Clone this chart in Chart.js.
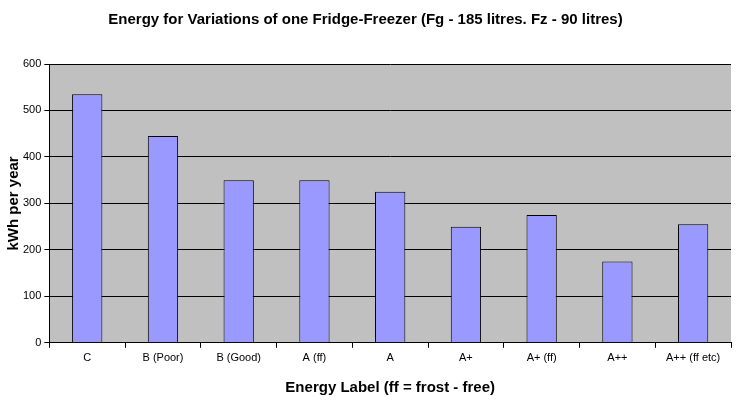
<!DOCTYPE html>
<html>
<head>
<meta charset="utf-8">
<script src="https://cdn.jsdelivr.net/npm/chart.js@4.4.0/dist/chart.umd.min.js"></script>
<style>
  body { margin: 0; background: #fff; }
  #wrap { width: 746px; height: 401px; }
</style>
</head>
<body>
<div id="wrap"><canvas id="myChart" width="746" height="401"></canvas></div>
<script>
const labels = ["C", "B (Poor)", "B (Good)", "A (ff)", "A", "A+", "A+ (ff)", "A++", "A++ (ff etc)"];
const kwhPerYear = [535, 445, 350, 350, 325, 250, 275, 175, 255];
const yTicks = [0, 100, 200, 300, 400, 500, 600];

const fontFamily = "'Liberation Sans', Arial, sans-serif";

// grey plot background like the old spreadsheet chart
const plotBackground = {
  id: "plotBackground",
  beforeDraw(chart) {
    const { ctx, chartArea } = chart;
    ctx.save();
    ctx.fillStyle = "#C0C0C0";
    ctx.fillRect(chartArea.left, chartArea.top, chartArea.right - chartArea.left, chartArea.bottom - chartArea.top);
    ctx.restore();
  },
};

const ctx = document.getElementById("myChart");

new Chart(ctx, {
  type: "bar",
  data: {
    labels: labels,
    datasets: [
      {
        label: "kWh per year",
        data: kwhPerYear,
        backgroundColor: "#9999FF",
        borderColor: "#000000",
        borderWidth: 1,
        barPercentage: 0.4,
        categoryPercentage: 1.0,
      },
    ],
  },
  options: {
    responsive: false,
    animation: false,
    layout: {
      padding: { top: 0, right: 15, bottom: 4, left: 0 },
    },
    plugins: {
      legend: { display: false },
      tooltip: { enabled: false },
      title: {
        display: true,
        text: "Energy for Variations of one Fridge-Freezer (Fg - 185 litres. Fz - 90 litres)",
        color: "#000",
        font: { family: fontFamily, size: 15, weight: "bold", lineHeight: 1.2 },
        padding: { top: 11, bottom: 35 },
      },
    },
    scales: {
      x: {
        grid: {
          display: true,
          drawOnChartArea: false,
          offset: true,
          color: "#000",
          tickLength: 5,
        },
        border: { color: "#000" },
        ticks: {
          color: "#000",
          font: { family: fontFamily, size: 11 },
          maxRotation: 0,
          autoSkip: false,
          padding: 4,
        },
        title: {
          display: true,
          text: "Energy Label (ff = frost - free)",
          color: "#000",
          font: { family: fontFamily, size: 15, weight: "bold", lineHeight: 1.2 },
          padding: { top: 10, bottom: 0 },
        },
      },
      y: {
        min: 0,
        max: 600,
        afterBuildTicks(axis) {
          axis.ticks = yTicks.map((v) => ({ value: v }));
        },
        grid: {
          color: "#000",
          tickLength: 5,
        },
        border: { color: "#000" },
        ticks: {
          color: "#000",
          font: { family: fontFamily, size: 11 },
          padding: 3,
        },
        title: {
          display: true,
          text: "kWh per year",
          color: "#000",
          font: { family: fontFamily, size: 15, weight: "bold", lineHeight: 0.8 },
          padding: { top: 8, bottom: 0 },
        },
      },
    },
  },
  plugins: [plotBackground],
});
</script>
</body>
</html>
